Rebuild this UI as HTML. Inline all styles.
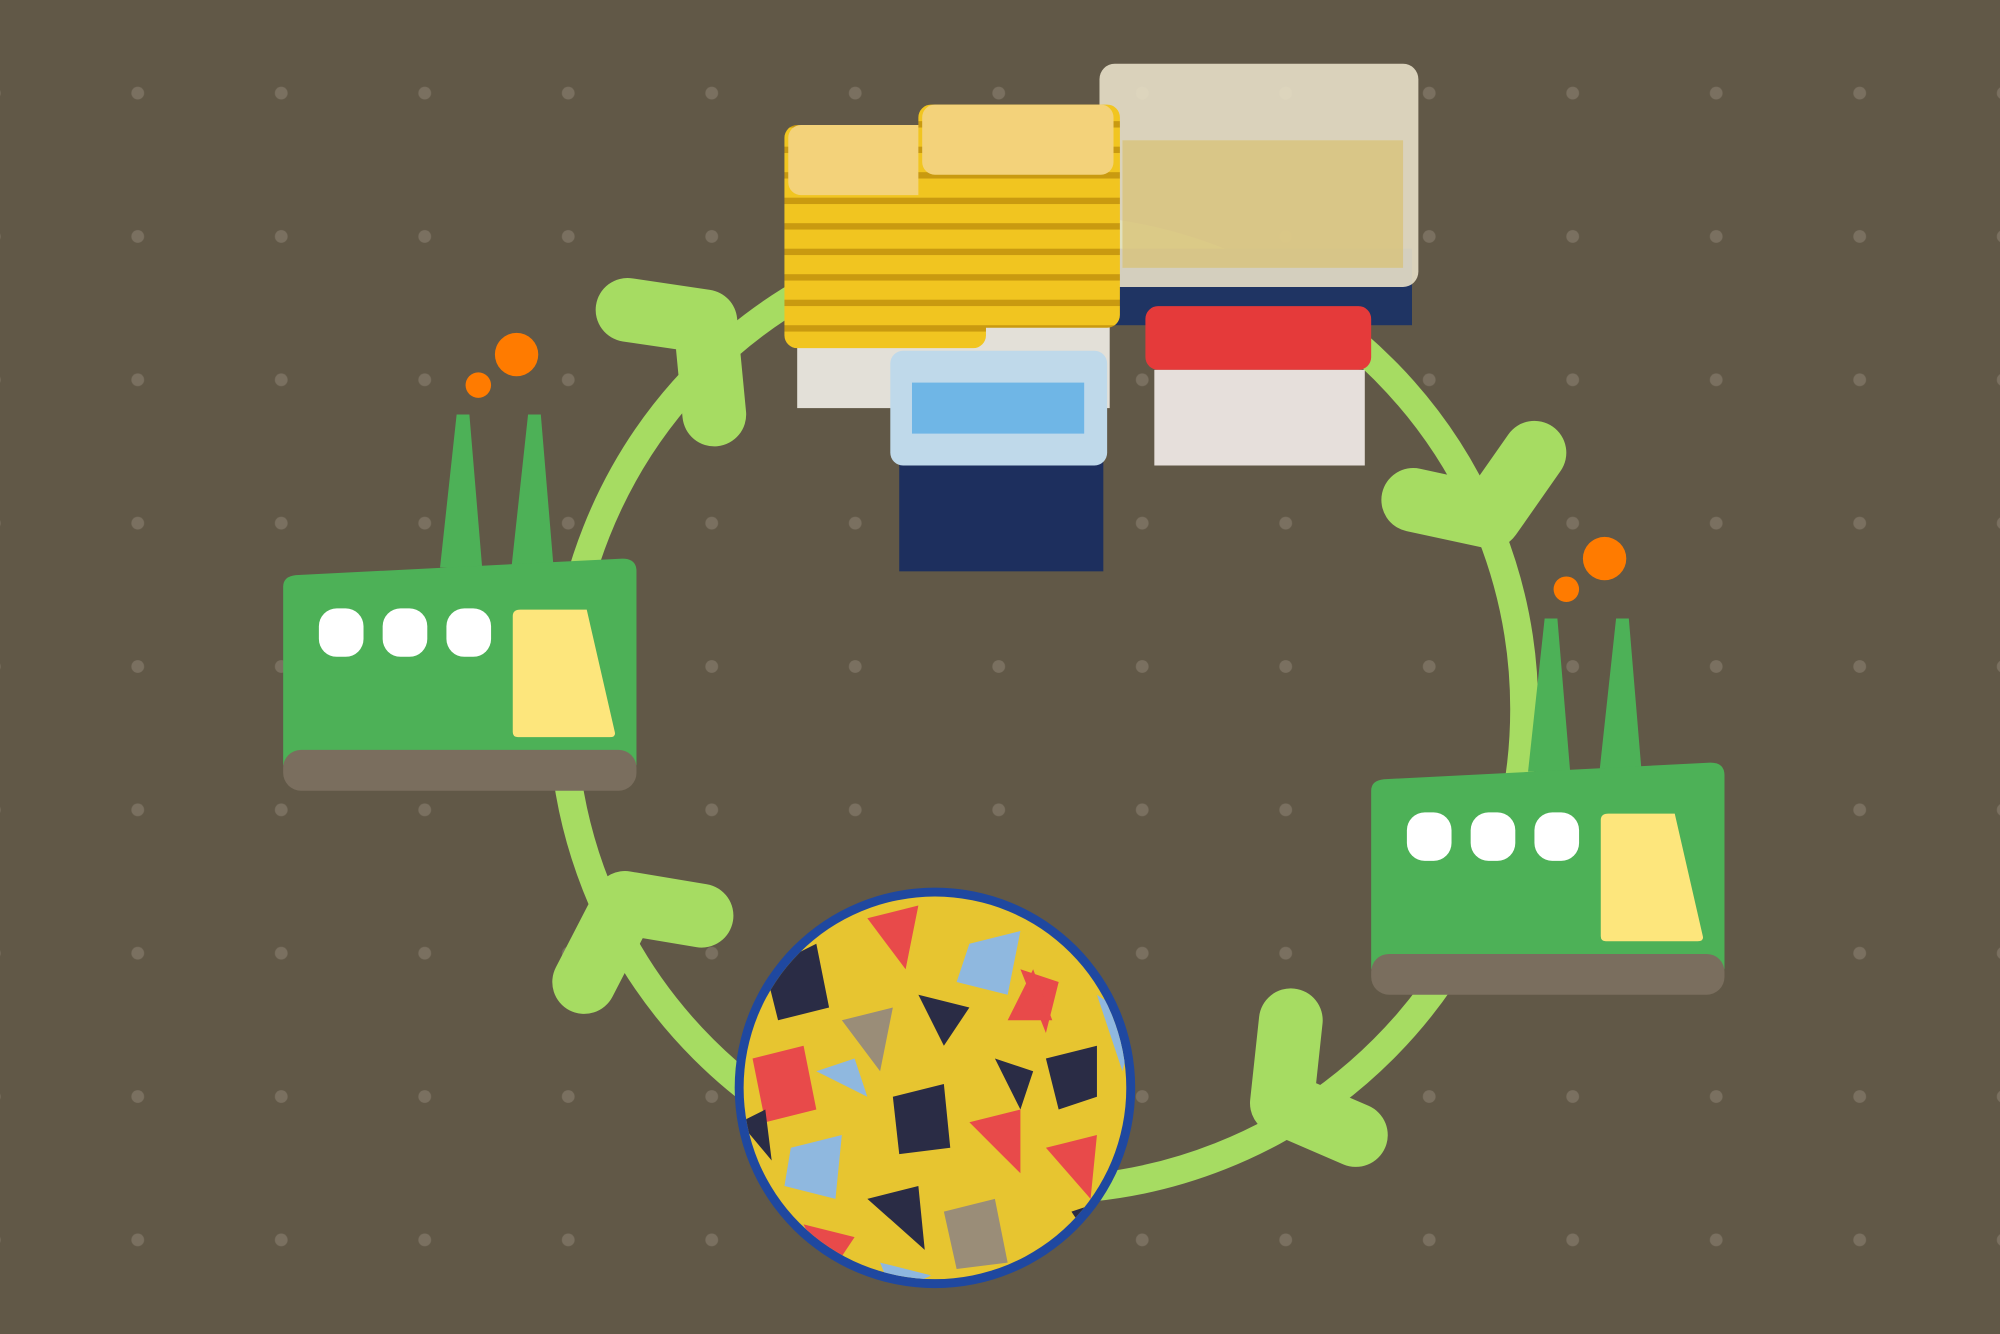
<!DOCTYPE html>
<html><head><meta charset="utf-8"><style>html,body{margin:0;padding:0;background:#615847;}svg{display:block}</style></head>
<body>
<svg width="2000" height="1334" viewBox="0 0 1568 1046" preserveAspectRatio="none" xmlns="http://www.w3.org/2000/svg">
<defs>
<pattern id="dots" x="108" y="73" width="112.5" height="112.4" patternUnits="userSpaceOnUse">
<circle cx="0" cy="0" r="5" fill="#7a7060"/><circle cx="112.5" cy="0" r="5" fill="#7a7060"/><circle cx="0" cy="112.4" r="5" fill="#7a7060"/><circle cx="112.5" cy="112.4" r="5" fill="#7a7060"/>
</pattern>
<pattern id="stripes" width="10" height="20" patternUnits="userSpaceOnUse">
<rect width="10" height="20" fill="#f1c520"/><rect y="15" width="10" height="5" fill="#c99a10"/>
</pattern>
<clipPath id="bowl"><circle cx="733" cy="853" r="150"/></clipPath>
<g id="factory">
<polygon points="345,445 358,325 368,325 378,445" fill="#4db157"/>
<polygon points="401,445 414,325 424,325 434,445" fill="#4db157"/>
<path d="M222,460 Q222,452 232,451 L488,438 Q499,438 499,448 L499,600 L222,600 Z" fill="#4db157"/>
<rect x="250" y="477" width="35" height="38" rx="14" fill="#fff"/>
<rect x="300" y="477" width="35" height="38" rx="14" fill="#fff"/>
<rect x="350" y="477" width="35" height="38" rx="14" fill="#fff"/>
<path d="M402,483 Q402,478 408,478 L460,478 L482,574 Q483,578 478,578 L406,578 Q402,578 402,574 Z" fill="#fde67c"/>
<rect x="222" y="588" width="277" height="32" rx="14" fill="#7a6e5e"/>
<circle cx="405" cy="278" r="17" fill="#ff7b00"/>
<circle cx="375" cy="302" r="10" fill="#ff7b00"/>
</g>
</defs>
<rect width="1568" height="1046" fill="#615847"/>
<rect width="1568" height="1046" fill="url(#dots)"/>
<circle cx="818" cy="556" r="377" fill="none" stroke="#a6dc62" stroke-width="22"/>
<g fill="none" stroke="#a6dc62" stroke-width="50" stroke-linecap="round" stroke-linejoin="round">
<polyline points="492,243 553,252 560,325"/>
<polyline points="1108,392 1168,405 1203,355"/>
<polyline points="1012,800 1005,865 1063,890"/>
<polyline points="458,770 490,708 550,718"/>
</g>
<use href="#factory"/>
<use href="#factory" transform="translate(853,160)"/>
<g>
<rect x="872" y="195" width="235" height="60" fill="#1f3463"/>
<rect x="862" y="50" width="250" height="175" rx="12" fill="#e8e0c8" opacity="0.9"/>
<rect x="880" y="110" width="220" height="100" fill="#d8c070" opacity="0.7"/>
<rect x="625" y="230" width="245" height="90" fill="#e3e0d8"/>
<rect x="615" y="98" width="158" height="175" rx="10" fill="url(#stripes)"/>
<rect x="618" y="98" width="150" height="55" rx="10" fill="#f3d27a"/>
<rect x="720" y="82" width="158" height="175" rx="10" fill="url(#stripes)"/>
<rect x="723" y="82" width="150" height="55" rx="10" fill="#f3d27a"/>
<rect x="898" y="240" width="177" height="50" rx="10" fill="#e53a3a"/>
<rect x="905" y="290" width="165" height="75" fill="#e6dfdb"/>
<rect x="705" y="340" width="160" height="108" fill="#1d2f5e"/>
<rect x="698" y="275" width="170" height="90" rx="10" fill="#bfd9ea"/>
<rect x="715" y="300" width="135" height="40" fill="#6fb6e6"/>
</g>
<circle cx="733" cy="853" r="157" fill="#1f48a0"/>
<g clip-path="url(#bowl)">
<rect x="570" y="690" width="330" height="330" fill="#e7c530"/>
<g>
<polygon points="600,760 640,740 650,790 610,800" fill="#2a2c45"/>
<polygon points="680,720 720,710 710,760" fill="#e84a4a"/>
<polygon points="760,740 800,730 790,780 750,770" fill="#8fb8df"/>
<polygon points="590,830 630,820 640,870 600,880" fill="#e84a4a"/>
<polygon points="660,800 700,790 690,840" fill="#9a8d78"/>
<polygon points="800,760 830,770 820,810" fill="#e84a4a"/>
<polygon points="820,830 860,820 860,860 830,870" fill="#2a2c45"/>
<polygon points="700,860 740,850 745,900 705,905" fill="#2a2c45"/>
<polygon points="760,880 800,870 800,920" fill="#e84a4a"/>
<polygon points="620,900 660,890 655,940 615,930" fill="#8fb8df"/>
<polygon points="680,940 720,930 725,980" fill="#2a2c45"/>
<polygon points="740,950 780,940 790,990 750,995" fill="#9a8d78"/>
<polygon points="820,900 860,890 855,940" fill="#e84a4a"/>
<polygon points="630,960 670,970 650,1000" fill="#e84a4a"/>
<polygon points="720,780 760,790 740,820" fill="#2a2c45"/>
<polygon points="790,800 810,760 825,800" fill="#e84a4a"/>
<polygon points="860,780 890,800 880,840" fill="#8fb8df"/>
<polygon points="690,990 730,1000 700,1015" fill="#8fb8df"/>
<polygon points="580,880 600,870 605,910" fill="#2a2c45"/>
<polygon points="640,840 670,830 680,860" fill="#8fb8df"/>
<polygon points="780,830 810,840 800,870" fill="#2a2c45"/>
<polygon points="840,950 870,940 860,980" fill="#2a2c45"/>
</g>
</g>
</svg>
</body></html>
